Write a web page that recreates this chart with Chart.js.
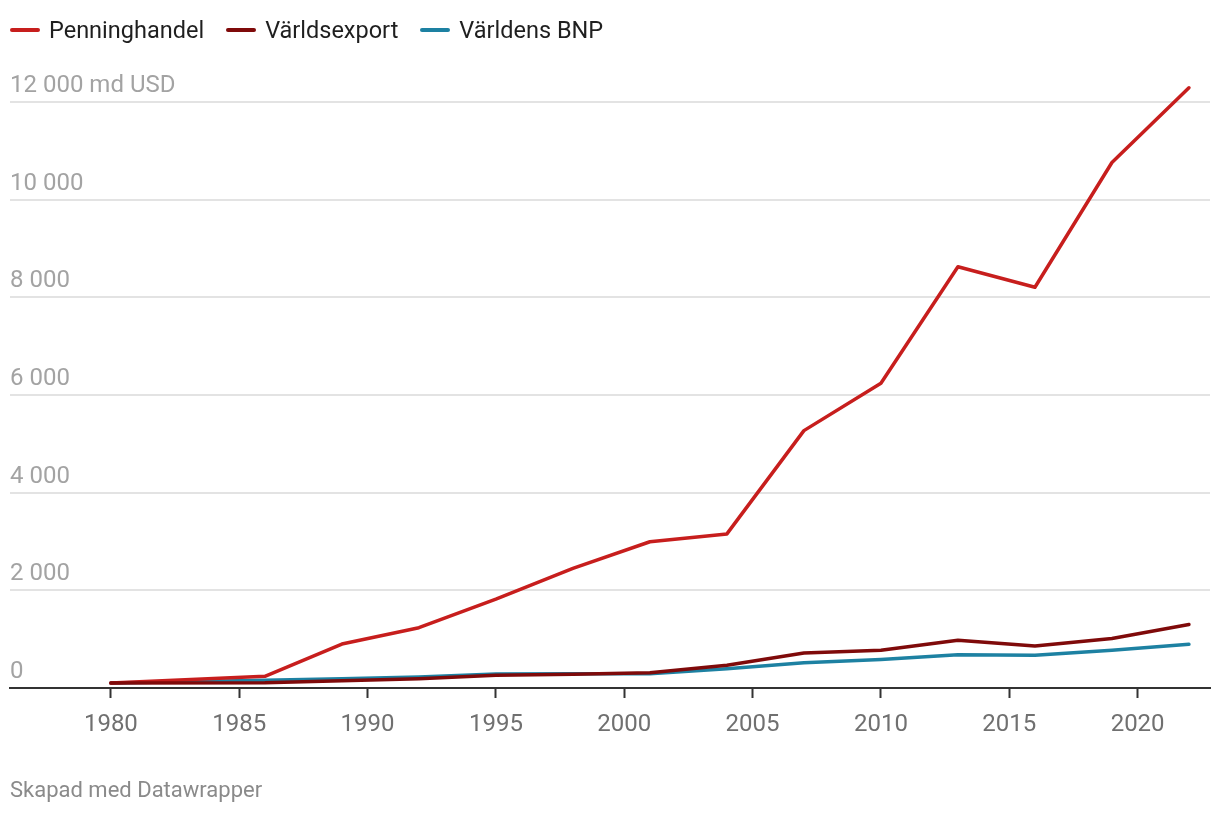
<!DOCTYPE html>
<html lang="sv">
<head>
<meta charset="utf-8">
<title>Penninghandel, världsexport och världens BNP</title>
<script src="https://cdn.jsdelivr.net/npm/chart.js@4.4.1/dist/chart.umd.min.js"></script>
<style>
    html, body { margin: 0; padding: 0; background: #fff; }
    body { font-family: Roboto, "Noto Sans", sans-serif; }
    #wrap { position: relative; width: 1220px; height: 816px; }
    #chartBox { position: absolute; left: 0; top: 0; width: 1220px; height: 816px; }
    #legend { position: absolute; left: 10px; top: 16px; display: flex; align-items: center; font-size: 23.5px; color: #1f1f1f; }
    #legend .item { display: flex; align-items: center; margin-right: 22px; }
    #legend .mark { width: 30px; height: 4px; border-radius: 2px; margin-right: 9px; }
    #footer { position: absolute; left: 10px; top: 777px; font-size: 22px; color: #8a8a8a; }
</style>
</head>
<body>
<div id="wrap">
    <div id="chartBox"><canvas id="fxChart"></canvas></div>
    <div id="legend"></div>
    <div id="footer">Skapad med Datawrapper</div>
</div>
<script>
// data (md USD)
const years = [1980, 1986, 1989, 1992, 1995, 1998, 2001, 2004, 2007, 2010, 2013, 2016, 2019, 2022];
const penninghandel = [100, 240, 900, 1235, 1820, 2450, 2995, 3155, 5270, 6240, 8625, 8205, 10760, 12290];
const varldsexport = [100, 110, 150, 190, 260, 280, 310, 465, 718, 775, 978, 862, 1012, 1300];
const varldensBnp = [100, 160, 190, 225, 285, 290, 290, 395, 518, 586, 682, 670, 773, 895];

const seriesNames = ['Penninghandel', 'Världsexport', 'Världens BNP'];
const seriesColors = ['#c71e1d', '#7f0a0a', '#1d81a2'];
const xTicks = [1980, 1985, 1990, 1995, 2000, 2005, 2010, 2015, 2020];
const yTicks = [0, 2000, 4000, 6000, 8000, 10000, 12000];

function points(values) {
    return years.map((y, i) => ({ x: y, y: values[i] }));
}

function fmt(v) {
    return String(v).replace(/\B(?=(\d{3})+(?!\d))/g, ' ');
}

// legend above the chart
const legend = document.getElementById('legend');
seriesNames.forEach((name, i) => {
    const item = document.createElement('div');
    item.className = 'item';
    const mark = document.createElement('span');
    mark.className = 'mark';
    mark.style.background = seriesColors[i];
    const txt = document.createElement('span');
    txt.textContent = name;
    item.appendChild(mark);
    item.appendChild(txt);
    legend.appendChild(item);
});

const allValues = [penninghandel, varldsexport, varldensBnp];
const drawOrder = [1, 0, 2];

const ctx = document.getElementById('fxChart').getContext('2d');
new Chart(ctx, {
    type: 'line',
    data: {
        datasets: allValues.map((vals, i) => ({
            label: seriesNames[i],
            data: points(vals),
            borderColor: seriesColors[i],
            backgroundColor: seriesColors[i],
            borderWidth: 3.5,
            pointRadius: 0,
            borderCapStyle: 'round',
            borderJoinStyle: 'round',
            tension: 0,
            order: drawOrder[i],
            clip: false
        }))
    },
    options: {
        responsive: true,
        maintainAspectRatio: false,
        animation: false,
        layout: { padding: { left: 10, right: 10, top: 58, bottom: 0 } },
        scales: {
            x: {
                type: 'linear',
                min: 1976.07,
                max: 2022.82,
                afterBuildTicks: scale => { scale.ticks = xTicks.map(v => ({ value: v })); },
                afterFit: scale => { scale.height = 128; },
                grid: {
                    drawOnChartArea: false,
                    drawTicks: true,
                    tickLength: 10,
                    tickWidth: 2,
                    tickColor: '#333'
                },
                border: { display: true, color: '#333', width: 2 },
                ticks: {
                    padding: 13,
                    color: '#707070',
                    font: { family: 'Roboto', size: 24 },
                    maxRotation: 0,
                    callback: v => String(v)
                }
            },
            y: {
                min: 0,
                max: 12900,
                afterBuildTicks: scale => { scale.ticks = yTicks.map(v => ({ value: v })); },
                grid: {
                    color: '#e3e3e3',
                    lineWidth: 2,
                    drawTicks: false
                },
                border: { display: false },
                ticks: {
                    mirror: true,
                    padding: 0,
                    labelOffset: -16,
                    color: '#a3a3a3',
                    font: { family: 'Roboto', size: 24 },
                    callback: v => v === 12000 ? fmt(v) + ' md USD' : fmt(v)
                }
            }
        },
        plugins: {
            legend: { display: false },
            tooltip: { enabled: false }
        }
    }
});
</script>
</body>
</html>
